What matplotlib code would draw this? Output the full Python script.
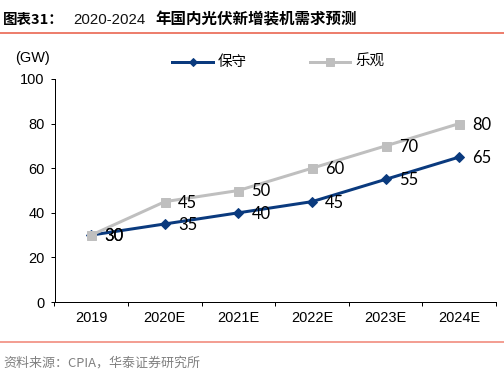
import matplotlib
matplotlib.use("Agg")
import matplotlib.pyplot as plt
from matplotlib.lines import Line2D

plt.rcParams['font.family'] = ['Liberation Sans', 'Noto Sans CJK SC', 'DejaVu Sans']

categories = ["2019", "2020E", "2021E", "2022E", "2023E", "2024E"]
conservative = [30, 35, 40, 45, 55, 65]
optimistic = [30, 45, 50, 60, 70, 80]
series_names = ["保守", "乐观"]
title_prefix = "图表31："
title_years = "2020-2024"
title_rest = "年国内光伏新增装机需求预测"
source = "资料来源：CPIA，华泰证券研究所"

W, H = 504, 378
fig = plt.figure(figsize=(W / 72, H / 72), dpi=72)
ax = fig.add_axes([54.5 / W, 1 - 302 / H, (496 - 54.5) / W, (302 - 79) / H])

blue = "#0A3A7E"
grey = "#BFBFBF"
x = list(range(len(categories)))

ax.plot(x, conservative, color=blue, lw=3, marker="D", ms=7, mec=blue, mfc=blue, zorder=3)
ax.plot(x, optimistic, color=grey, lw=3, marker="s", ms=9, mec=grey, mfc=grey, zorder=4)

for xi, v in zip(x, conservative):
    ax.annotate(str(v), (xi, v), xytext=(13, -1), textcoords="offset points",
                ha="left", va="center", fontsize=16.5, family="Lato", color="black", zorder=5)
for xi, v in zip(x, optimistic):
    ax.annotate(str(v), (xi, v), xytext=(13, -1), textcoords="offset points",
                ha="left", va="center", fontsize=16.5, family="Lato", color="black", zorder=5)

ax.set_xlim(-0.5, len(categories) - 0.5)
ax.set_ylim(0, 100)
ax.set_yticks([0, 20, 40, 60, 80, 100])
ax.set_xticks([i - 0.5 for i in range(len(categories) + 1)], minor=False)
ax.set_xticklabels([""] * (len(categories) + 1))
ax.set_xticks(x, minor=True)
ax.set_xticklabels(categories, minor=True)
ax.tick_params(axis="x", which="major", length=4, width=1, direction="out", color="black")
ax.tick_params(axis="x", which="minor", length=0, labelsize=14.5, pad=9)
ax.tick_params(axis="y", length=4, width=1, labelsize=14.5, pad=6)
for s in ["top", "right"]:
    ax.spines[s].set_visible(False)
ax.spines["left"].set_linewidth(1)
ax.spines["bottom"].set_linewidth(1)

# y unit label
fig.text(33 / W, 1 - 58 / H, "(GW)", ha="center", va="center", fontsize=14.5)

# legend drawn manually in figure coords
fig.add_artist(Line2D([172 / W, 213 / W], [1 - 62 / H] * 2, color=blue, lw=3))
fig.add_artist(Line2D([193 / W], [1 - 62 / H], color=blue, marker="D", ms=6, lw=0))
fig.text(218 / W, 1 - 62 / H, series_names[0], ha="left", va="center", fontsize=14.5,
         family=["Noto Sans CJK SC"])
fig.add_artist(Line2D([310 / W, 350 / W], [1 - 62 / H] * 2, color=grey, lw=3))
fig.add_artist(Line2D([330 / W], [1 - 62 / H], color=grey, marker="s", ms=8, lw=0))
fig.text(355 / W, 1 - 62 / H, series_names[1], ha="left", va="center", fontsize=14.5,
         family=["Noto Sans CJK SC"])

# title and decoration
ty = 1 - 20 / H
fig.text(3 / W, ty, title_prefix, ha="left", va="center", fontsize=14.5, fontweight="bold",
         family=["Noto Sans CJK SC"])
fig.text(73 / W, ty, title_years, ha="left", va="center", fontsize=15,
         family=["Liberation Sans"], color="#111111")
fig.text(155 / W, ty, title_rest, ha="left", va="center", fontsize=15.5, fontweight="bold",
         family=["Noto Sans CJK SC"])
fig.add_artist(Line2D([0, 1], [1 - 33 / H] * 2, color="#E8553F", lw=1.5))
fig.add_artist(Line2D([0, 1], [1 - 342 / H] * 2, color="#F08070", lw=1.5))
fig.text(3 / W, 1 - 363 / H, source, ha="left", va="center", fontsize=13, color="#808080",
         family=["Noto Sans CJK SC", "DejaVu Sans"])

fig.savefig("out.png", dpi=72)
